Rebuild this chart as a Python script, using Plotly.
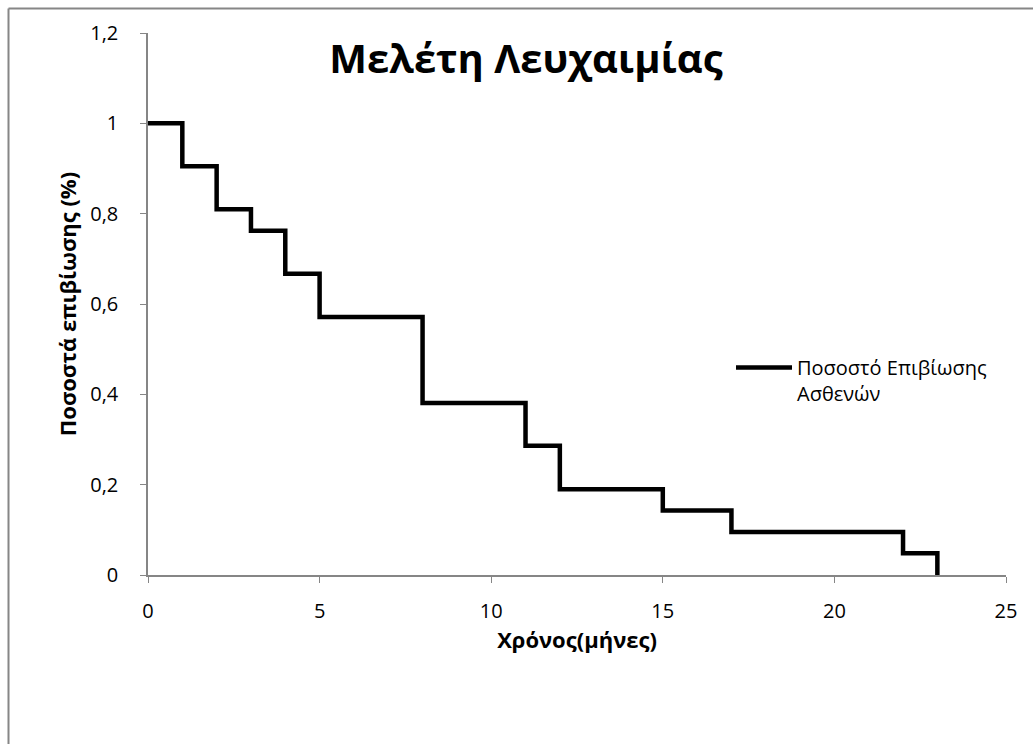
import plotly.graph_objects as go

months = [0, 1, 2, 3, 4, 5, 8, 11, 12, 15, 17, 22, 23]
survival = [1.0, 0.905, 0.810, 0.762, 0.667, 0.571, 0.381, 0.286, 0.190, 0.143, 0.095, 0.048, 0.0]

title_text = "Μελέτη Λευχαιμίας"
x_title = "Χρόνος(μήνες)"
y_title = "Ποσοστά επιβίωσης (%)"
series_name = "Ποσοστό Επιβίωσης<br>Ασθενών"

font_family = "Open Sans, Noto Sans, sans-serif"
axis_color = "#868686"

W, H = 1033, 744
L, R, T, B = 148, 27, 33, 169
pw, ph = W - L - R, H - T - B

fig = go.Figure()
fig.add_trace(go.Scatter(
    x=months, y=survival, mode="lines", name=series_name,
    line=dict(color="black", width=4.5, shape="hv"),
))

# chart-area border: starts at (8, 8) and runs past the right/bottom edges
bx0 = -(L - 8.5) / pw
by1 = 1 + (T - 8.5) / ph
bx1 = 1 + (R + 6) / pw
by0 = -(B + 6) / ph

fig.update_layout(
    width=W, height=H,
    paper_bgcolor="white", plot_bgcolor="white",
    margin=dict(l=L, r=R, t=T, b=B, autoexpand=False),
    separators=",.",
    font=dict(family=font_family, color="black"),
    title=dict(text="<b>" + title_text + "</b>", x=526 / W, xanchor="center",
               y=1 - 59 / H, yanchor="middle", font=dict(size=40, family=font_family)),
    showlegend=True,
    legend=dict(x=(731 - 148) / pw, y=1 - (348 - 33) / ph, xanchor="left", yanchor="top",
                font=dict(size=20), bgcolor="rgba(0,0,0,0)",
                itemwidth=56, valign="top", tracegroupgap=0),
    xaxis=dict(range=[0, 25], dtick=5, tick0=0, showgrid=False, zeroline=False,
               showline=True, linecolor=axis_color, linewidth=1.5,
               ticks="outside", ticklen=6, tickcolor=axis_color,
               tickfont=dict(size=20), ticklabelstandoff=11,
               title=dict(text="<b>" + x_title + "</b>", font=dict(size=22), standoff=8)),
    yaxis=dict(range=[0, 1.2], dtick=0.2, tick0=0, showgrid=False, zeroline=False,
               showline=True, linecolor=axis_color, linewidth=1.5,
               ticks="outside", ticklen=6, tickcolor=axis_color,
               tickfont=dict(size=20), ticklabelstandoff=18,
               title=dict(text="<b>" + y_title + "</b>", font=dict(size=22), standoff=8)),
    shapes=[
        dict(type="line", xref="paper", yref="paper", x0=bx0, x1=bx1, y0=by1, y1=by1,
             line=dict(color=axis_color, width=2), layer="above"),
        dict(type="line", xref="paper", yref="paper", x0=bx0, x1=bx0, y0=by0, y1=by1,
             line=dict(color=axis_color, width=2), layer="above"),
    ],
)

fig.write_html("out.html", config={"displayModeBar": False},
               post_script="document.body.style.margin='0';")
